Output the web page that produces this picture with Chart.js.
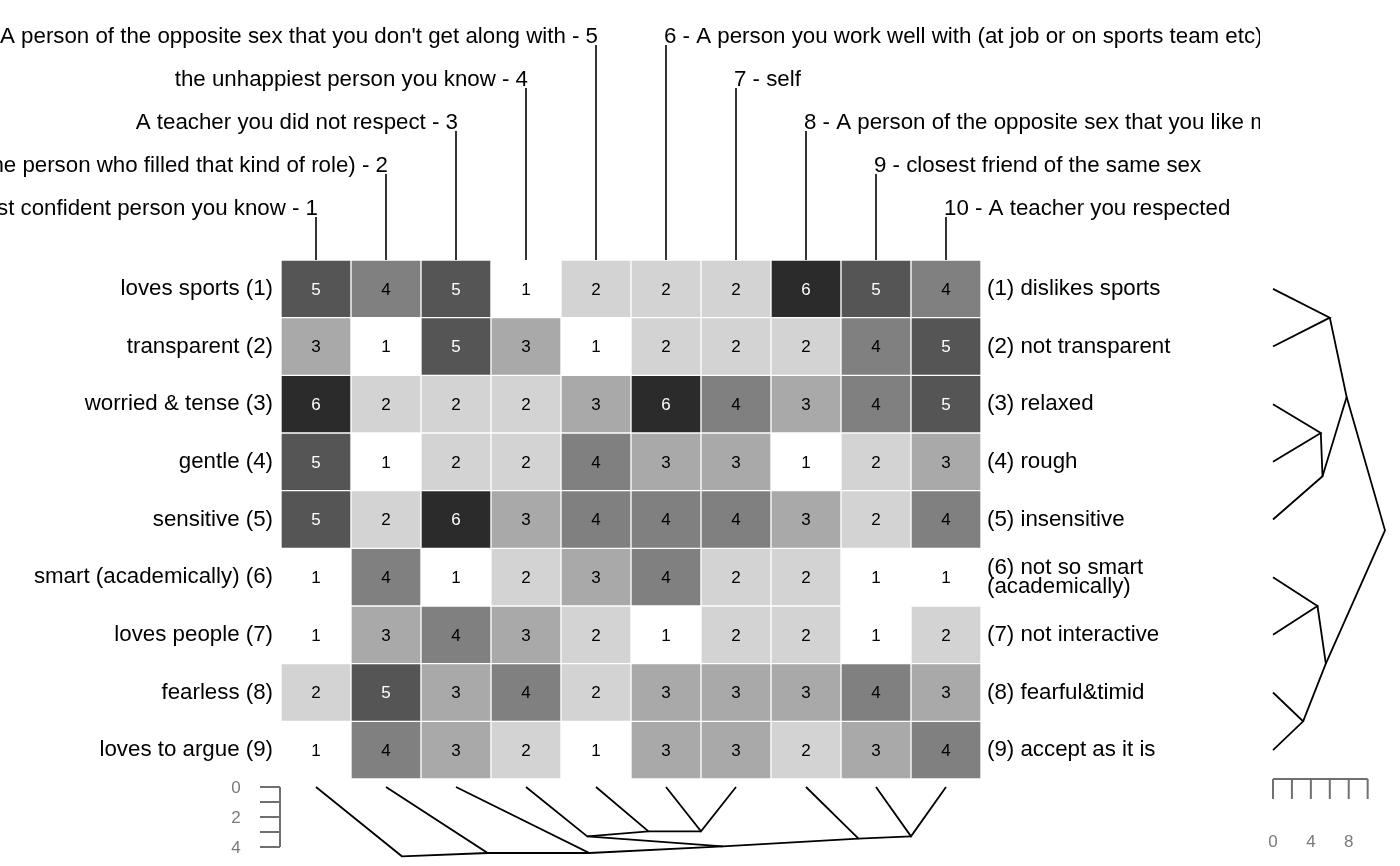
<!DOCTYPE html>
<html><head><meta charset="utf-8">
<script src="https://cdn.jsdelivr.net/npm/chart.js@4.4.1/dist/chart.umd.min.js"></script>
<style>
html,body{margin:0;padding:0;background:#fff;overflow:hidden;}
#wrap{position:relative;width:1400px;height:866px;}
canvas{position:absolute;left:0;top:0;}
</style></head><body>
<div id="wrap">
<canvas id="heat" width="1400" height="866"></canvas>
<canvas id="dcol" width="1400" height="866"></canvas>
<canvas id="drow" width="1400" height="866"></canvas>
</div>
<script>
// ---------- DATA ----------
const elementIds = ['1','2','3','4','5','6','7','8','9','10'];
const elementNames = [
  'the most confident person you know',
  'Your father (or the person who filled that kind of role)',
  'A teacher you did not respect',
  'the unhappiest person you know',
  "A person of the opposite sex that you don't get along with",
  'A person you work well with (at job or on sports team etc)',
  'self',
  'A person of the opposite sex that you like more than others',
  'closest friend of the same sex',
  'A teacher you respected'
];
const leftPoles = ['loves sports','transparent','worried & tense','gentle','sensitive',
  'smart (academically)','loves people','fearless','loves to argue'];
const rightPoles = ['dislikes sports','not transparent','relaxed','rough','insensitive',
  'not so smart\n(academically)','not interactive','fearful&timid','accept as it is'];
const ratings = [
  [5,4,5,1,2,2,2,6,5,4],
  [3,1,5,3,1,2,2,2,4,5],
  [6,2,2,2,3,6,4,3,4,5],
  [5,1,2,2,4,3,3,1,2,3],
  [5,2,6,3,4,4,4,3,2,4],
  [1,4,1,2,3,4,2,2,1,1],
  [1,3,4,3,2,1,2,2,1,2],
  [2,5,3,4,2,3,3,3,4,3],
  [1,4,3,2,1,3,3,2,3,4]
];
// hierarchical clustering of elements (columns): negative = leaf, positive = earlier merge
const colMerge = [[-6,-7],[-5,1],[-4,2],[-9,-10],[-8,4],[3,5],[-3,6],[-2,7],[-1,8]];
const colHeights = [2.96,2.96,3.29,3.29,3.44,3.96,4.4,4.4,4.62];
// hierarchical clustering of constructs (rows)
const rowMerge = [[-8,-9],[-6,-7],[-3,-4],[-5,3],[2,1],[-1,-2],[6,4],[7,5]];
const rowHeights = [3.18,4.7,5.05,5.23,5.58,6.0,7.78,11.83];
const colScaleTicks = [0,1,2,3,4];
const colScaleLabels = [0,2,4];
const rowScaleTicks = [0,2,4,6,8,10];
const rowScaleLabels = [0,4,8];

// ---------- STYLE ----------
const shade = {1:'#ffffff',2:'#d3d3d3',3:'#a9a9a9',4:'#808080',5:'#555555',6:'#2b2b2b'};
const FONT = '"Liberation Sans", Arial, Helvetica, sans-serif';
const axisGray = '#707070';

function treeSegments(merge, heights) {
  const nodes = [];
  const pos = (id) => id < 0 ? {p: -id, h: 0} : nodes[id - 1];
  const segs = [];
  merge.forEach(([a, b], i) => {
    const A = pos(a), B = pos(b);
    const N = {p: (A.p + B.p) / 2, h: heights[i]};
    nodes.push(N);
    segs.push([A, N, B]);
  });
  return segs;
}

// ---------- HEATMAP ----------
const heatLabels = {
  id: 'heatLabels',
  afterDraw(chart) {
    const ctx = chart.ctx, xs = chart.scales.x, ys = chart.scales.y, a = chart.chartArea;
    ctx.save();
    // cell values
    ctx.font = '17px ' + FONT;
    ctx.textAlign = 'center';
    ctx.textBaseline = 'middle';
    ratings.forEach((row, ri) => row.forEach((v, ci) => {
      ctx.fillStyle = v >= 5 ? '#ffffff' : '#000000';
      ctx.fillText(String(v), xs.getPixelForValue(ci), ys.getPixelForValue(ri + 1) + 1);
    }));
    // pole labels
    ctx.font = '22.3px ' + FONT;
    ctx.fillStyle = '#000';
    leftPoles.forEach((t, ri) => {
      ctx.textAlign = 'right';
      ctx.fillText(t + ' (' + (ri + 1) + ')', a.left - 8, ys.getPixelForValue(ri + 1));
    });
    rightPoles.forEach((t, ri) => {
      ctx.textAlign = 'left';
      const lines = ('(' + (ri + 1) + ') ' + t).split('\n');
      const y0 = ys.getPixelForValue(ri + 1) - (lines.length - 1) * 19.5 / 2;
      lines.forEach((ln, k) => ctx.fillText(ln, a.right + 6, y0 + k * 19.5));
    });
    // element labels on top
    ctx.beginPath();
    ctx.rect(0, 0, 1260, a.top);
    ctx.clip();
    ctx.textBaseline = 'alphabetic';
    ctx.strokeStyle = '#000';
    ctx.lineWidth = 1.6;
    elementNames.forEach((nm, i) => {
      const cx = xs.getPixelForValue(i);
      const lvl = i < 5 ? i : 9 - i;
      const base = a.top - 45 - 43 * lvl;
      if (i < 5) {
        ctx.textAlign = 'right';
        ctx.fillText(nm + ' - ' + elementIds[i], cx + 2, base);
      } else {
        ctx.textAlign = 'left';
        ctx.fillText(elementIds[i] + ' - ' + nm, cx - 2, base);
      }
      ctx.beginPath();
      ctx.moveTo(cx, base + 2);
      ctx.lineTo(cx, a.top);
      ctx.stroke();
    });
    ctx.restore();
  }
};

new Chart(document.getElementById('heat'), {
  type: 'bar',
  data: {
    labels: elementIds,
    datasets: ratings.map((row, ri) => ({
      label: leftPoles[ri],
      data: row.map(() => [ri + 0.5, ri + 1.5]),
      backgroundColor: row.map(v => shade[v]),
      borderColor: '#ffffff',
      borderWidth: 1,
      borderSkipped: false,
      grouped: false,
      barPercentage: 1,
      categoryPercentage: 1
    }))
  },
  options: {
    responsive: false, animation: false,
    layout: {padding: {left: 281, right: 419, top: 260, bottom: 87}},
    plugins: {legend: {display: false}, tooltip: {enabled: false}},
    scales: {
      x: {display: false},
      y: {type: 'linear', display: false, min: 0.5, max: 9.5, reverse: true}
    }
  },
  plugins: [heatLabels]
});

// ---------- COLUMN DENDROGRAM ----------
const colScale = {
  id: 'colScale',
  afterDraw(chart) {
    const ctx = chart.ctx, ys = chart.scales.y, a = chart.chartArea;
    const x1 = a.left - 1, x0 = x1 - 20;
    ctx.save();
    ctx.strokeStyle = axisGray; ctx.lineWidth = 2;
    ctx.beginPath();
    ctx.moveTo(x1, ys.getPixelForValue(colScaleTicks[0]));
    ctx.lineTo(x1, ys.getPixelForValue(colScaleTicks[colScaleTicks.length - 1]));
    colScaleTicks.forEach(v => { const y = ys.getPixelForValue(v); ctx.moveTo(x0, y); ctx.lineTo(x1, y); });
    ctx.stroke();
    ctx.fillStyle = '#7a7a7a'; ctx.font = '17px ' + FONT;
    ctx.textAlign = 'center'; ctx.textBaseline = 'middle';
    colScaleLabels.forEach(v => ctx.fillText(String(v), x0 - 24, ys.getPixelForValue(v) + 1));
    ctx.restore();
  }
};
new Chart(document.getElementById('dcol'), {
  type: 'line',
  data: {
    datasets: treeSegments(colMerge, colHeights).map(s => ({
      data: s.map(n => ({x: n.p, y: n.h})),
      borderColor: '#000', borderWidth: 1.8, pointRadius: 0, tension: 0, fill: false, clip: false
    }))
  },
  options: {
    responsive: false, animation: false,
    layout: {padding: {left: 281, right: 419, top: 787, bottom: 8.5}},
    plugins: {legend: {display: false}, tooltip: {enabled: false}},
    scales: {
      x: {type: 'linear', display: false, min: 0.5, max: 10.5},
      y: {type: 'linear', display: false, min: 0, max: 4.7, reverse: true}
    }
  },
  plugins: [colScale]
});

// ---------- ROW DENDROGRAM ----------
const rowScale = {
  id: 'rowScale',
  afterDraw(chart) {
    const ctx = chart.ctx, xs = chart.scales.x, a = chart.chartArea;
    const y0 = a.bottom, y1 = y0 + 20;
    ctx.save();
    ctx.strokeStyle = axisGray; ctx.lineWidth = 2;
    ctx.beginPath();
    ctx.moveTo(xs.getPixelForValue(rowScaleTicks[0]), y0);
    ctx.lineTo(xs.getPixelForValue(rowScaleTicks[rowScaleTicks.length - 1]), y0);
    rowScaleTicks.forEach(v => { const x = xs.getPixelForValue(v); ctx.moveTo(x, y0); ctx.lineTo(x, y1); });
    ctx.stroke();
    ctx.fillStyle = '#7a7a7a'; ctx.font = '17px ' + FONT;
    ctx.textAlign = 'center'; ctx.textBaseline = 'middle';
    rowScaleLabels.forEach(v => ctx.fillText(String(v), xs.getPixelForValue(v), y0 + 63));
    ctx.restore();
  }
};
new Chart(document.getElementById('drow'), {
  type: 'line',
  data: {
    datasets: treeSegments(rowMerge, rowHeights).map(s => ({
      data: s.map(n => ({x: n.h, y: n.p})),
      borderColor: '#000', borderWidth: 1.8, pointRadius: 0, tension: 0, fill: false, clip: false
    }))
  },
  options: {
    responsive: false, animation: false,
    layout: {padding: {left: 1273, right: 13.4, top: 260, bottom: 87}},
    plugins: {legend: {display: false}, tooltip: {enabled: false}},
    scales: {
      x: {type: 'linear', display: false, min: 0, max: 12},
      y: {type: 'linear', display: false, min: 0.5, max: 9.5, reverse: true}
    }
  },
  plugins: [rowScale]
});
</script>
</body></html>
